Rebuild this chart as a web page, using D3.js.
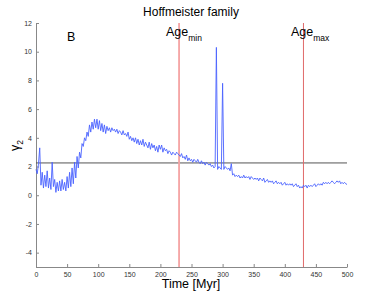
<!DOCTYPE html>
<html><head><meta charset="utf-8">
<script src="https://cdn.jsdelivr.net/npm/d3@7"></script>
<style>body{margin:0;background:#fff}svg{display:block}text{font-family:"Liberation Sans",Arial,sans-serif}</style>
</head><body>
<svg id="c" width="388" height="293"></svg>
<script>
const title = "Hoffmeister family";
const xTicks = [0,50,100,150,200,250,300,350,400,450,500];
const yTicks = [-4,-2,0,2,4,6,8,10,12];
const timeStep = 2; // Myr between samples, starting at 0
const gamma2 = [
1.8,1.5,2.2,3.3,0.7,1.6,0.5,1.4,0.6,1.7,
0.5,1.2,0.4,2.3,0.6,1.1,0.2,0.9,0.3,1.0,
0.3,1.1,0.4,0.9,0.3,1.3,0.5,1.6,0.6,1.9,
0.8,2.3,1.2,2.7,1.9,3.0,2.6,3.6,3.4,4.0,
3.8,4.4,4.1,4.9,4.4,5.1,4.6,5.3,4.7,5.3,
4.6,5.2,4.5,5.0,4.4,4.9,4.3,4.8,4.5,4.7,
4.4,4.7,4.5,4.6,4.4,4.6,4.3,4.5,4.4,4.2,
4.5,4.2,4.3,4.1,4.4,3.9,4.1,3.8,4.0,3.7,
4.0,3.6,3.9,3.5,3.8,3.5,3.9,3.4,3.7,3.5,
3.3,3.7,3.2,3.6,3.3,3.5,3.1,3.4,3.0,3.5,
3.2,3.5,3.0,3.3,3.1,3.2,2.9,3.1,3.0,2.8,
3.0,2.9,2.8,3.0,2.9,2.8,2.7,2.9,2.6,2.7,
2.5,2.8,2.4,2.6,2.4,2.5,2.3,2.5,2.4,2.3,
2.5,2.3,2.2,2.4,2.2,2.3,2.1,2.3,2.2,2.1,
2.2,2.0,2.1,1.9,2.0,10.3,1.8,2.0,1.9,1.8,
7.8,1.8,2.0,1.9,1.8,1.9,1.7,2.2,1.4,1.5,
1.3,1.4,1.3,1.4,1.2,1.3,1.2,1.4,1.2,1.3,
1.2,1.3,1.1,1.3,1.2,1.1,1.2,1.1,1.2,1.0,
1.2,1.1,1.0,1.2,0.9,1.0,1.1,0.9,1.0,0.9,
1.0,0.8,0.9,1.0,0.8,0.9,0.8,0.9,0.7,0.8,
0.9,0.7,0.8,0.7,0.8,0.7,0.8,0.6,0.7,0.8,
0.6,0.7,0.5,0.6,0.5,0.7,0.6,0.7,0.5,0.7,
0.6,0.7,0.6,0.7,0.8,0.6,0.7,0.8,0.7,0.8,
0.7,0.9,0.8,0.9,0.8,0.9,0.8,0.9,1.0,0.9,
0.8,0.9,1.0,0.9,1.0,0.8,0.9,0.8,0.9,0.8,
0.75];
const refLevel = 2.25;
const ageMin = 230, ageMax = 430;

const svg = d3.select("#c");
const L = 36, R = 347, T = 23, B = 267;
const x = d3.scaleLinear().domain([0,500]).range([L,R]);
const y = d3.scaleLinear().domain([-5,12]).range([B,T]);

// axes (MATLAB style, inward ticks)
const ax = svg.append("g").attr("transform",`translate(0,${B})`)
  .call(d3.axisBottom(x).tickValues(xTicks).tickSizeInner(-3).tickSizeOuter(0).tickPadding(5));
const ay = svg.append("g").attr("transform",`translate(${L},0)`)
  .call(d3.axisLeft(y).tickValues(yTicks.concat([-5])).tickFormat(d=>d===-5?"":d).tickSizeInner(-3).tickSizeOuter(0).tickPadding(4));
[ax,ay].forEach(g=>{
  g.selectAll("path,line").attr("stroke","#888");
  g.selectAll("text").attr("font-size",7).attr("fill","#333");
});

// reference horizontal line
svg.append("line").attr("x1",x(0)).attr("x2",x(500)).attr("y1",y(refLevel)).attr("y2",y(refLevel))
  .attr("stroke","#555").attr("stroke-width",1);

// age lines
svg.append("line").attr("x1",x(ageMin)).attr("x2",x(ageMin)).attr("y1",T).attr("y2",B)
  .attr("stroke","#f5a3a3").attr("stroke-width",1.8);
svg.append("line").attr("x1",x(ageMax)).attr("x2",x(ageMax)).attr("y1",T).attr("y2",B)
  .attr("stroke","#e06a6a").attr("stroke-width",1);

// data line
const line = d3.line().x((d,i)=>x(i*timeStep)).y(d=>y(d));
svg.append("path").datum(gamma2).attr("d",line).attr("fill","none")
  .attr("stroke","#4a62ff").attr("stroke-width",0.9);

// texts
svg.append("text").attr("x",191).attr("y",16).attr("text-anchor","middle").attr("font-size",12).text(title);
svg.append("text").attr("x",67).attr("y",41).attr("font-size",12.5).text("B");
function ageLabel(xp, sub){
  const t = svg.append("text").attr("x",xp).attr("y",36).attr("font-size",12.5);
  t.append("tspan").text("Age");
  t.append("tspan").attr("font-size",8.5).attr("dy",5).text(sub);
}
ageLabel(166, "min");
ageLabel(291, "max");
svg.append("text").attr("x",191).attr("y",288).attr("text-anchor","middle").attr("font-size",12.5).text("Time [Myr]");
const yl = svg.append("text").attr("transform","translate(19,151) rotate(-90)").attr("font-size",12.5);
yl.append("tspan").text("γ");
yl.append("tspan").attr("font-size",8.5).attr("dy",4).text("2");
</script>
</body></html>
